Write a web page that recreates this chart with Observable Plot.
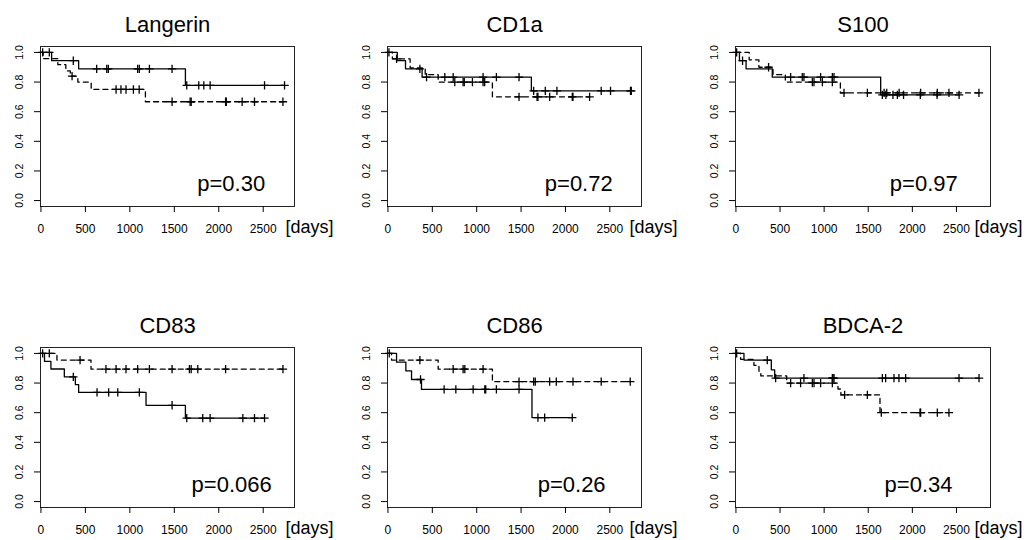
<!DOCTYPE html>
<html><head><meta charset="utf-8">
<script src="https://cdn.jsdelivr.net/npm/d3@7"></script>
<script src="https://cdn.jsdelivr.net/npm/@observablehq/plot@0.6"></script>
<style>
html,body{margin:0;padding:0;background:#fff;}
#chart{position:relative;width:1033px;height:540px;overflow:hidden;font-family:"Liberation Sans",Arial,sans-serif;background:#fff;}
#chart > div{position:absolute;}
#chart svg{max-width:none !important;overflow:visible;}
</style></head><body><div id="chart"></div>
<script>
// ---- data ----
const markers = ["Langerin", "CD1a", "S100", "CD83", "CD86", "BDCA-2"];
const pLabels = ["p=0.30", "p=0.72", "p=0.97", "p=0.066", "p=0.26", "p=0.34"];
const xTicks = [0, 500, 1000, 1500, 2000, 2500];
const yTicks = [0, 0.2, 0.4, 0.6, 0.8, 1.0];

// Langerin
const langerinSolidTime = [0, 120, 424, 1625];
const langerinSolidSurv = [1, 0.944, 0.889, 0.778];
const langerinSolidCens = [19, 94, 364, 627, 740, 758, 1088, 1107, 1220, 1475, 1640, 1775, 1832, 1903, 2515, 2740];
const langerinDashTime = [0, 25, 190, 280, 330, 415, 565, 1175];
const langerinDashSurv = [1, 0.958, 0.917, 0.875, 0.84, 0.80, 0.75, 0.667];
const langerinDashCens = [350, 845, 900, 957, 1040, 1105, 1475, 1678, 1690, 2077, 2085, 2263, 2402, 2722];

// CD1a
const cd1aSolidTime = [0, 105, 198, 385, 1616];
const cd1aSolidSurv = [1, 0.944, 0.889, 0.833, 0.741];
const cd1aSolidCens = [11, 360, 435, 641, 735, 1072, 1222, 1477, 1642, 1773, 1904, 2403, 2508, 2733, 2742];
const cd1aDashTime = [0, 50, 250, 420, 566, 1177];
const cd1aDashSurv = [1, 0.957, 0.895, 0.85, 0.80, 0.70];
const cd1aDashCens = [97, 753, 847, 860, 952, 1072, 1090, 1477, 1680, 1690, 1822, 2077, 2085, 2272];

// S100
const s100SolidTime = [0, 40, 115, 412, 1641];
const s100SolidSurv = [1, 0.944, 0.889, 0.833, 0.714];
const s100SolidCens = [8, 75, 620, 752, 771, 960, 1093, 1112, 1660, 1700, 1780, 1830, 1900, 2090, 2280, 2530];
const s100DashTime = [0, 150, 260, 420, 560, 1184];
const s100DashSurv = [1, 0.95, 0.90, 0.85, 0.80, 0.727];
const s100DashCens = [370, 866, 885, 980, 1093, 1225, 1490, 1680, 1710, 1850, 2094, 2283, 2415, 2755];

// CD83
const cd83SolidTime = [0, 40, 112, 263, 387, 424, 1182, 1625];
const cd83SolidSurv = [1, 0.947, 0.895, 0.842, 0.79, 0.737, 0.65, 0.563];
const cd83SolidCens = [19, 364, 631, 762, 864, 1107, 1475, 1640, 1820, 1903, 2271, 2402, 2515];
const cd83DashTime = [0, 180, 563];
const cd83DashSurv = [1, 0.955, 0.894];
const cd83DashCens = [94, 440, 731, 845, 957, 1088, 1220, 1475, 1670, 1690, 1764, 2077, 2722];

// CD86
const cd86SolidTime = [0, 97, 202, 266, 378, 1623];
const cd86SolidSurv = [1, 0.941, 0.882, 0.824, 0.757, 0.567];
const cd86SolidCens = [15, 367, 633, 765, 960, 1091, 1102, 1222, 1477, 1690, 1766, 2077];
const cd86DashTime = [0, 41, 566, 1177];
const cd86DashSurv = [1, 0.955, 0.894, 0.81];
const cd86DashCens = [360, 735, 847, 866, 1072, 1477, 1642, 1660, 1822, 1897, 2085, 2403, 2730];

// BDCA-2
const bdcaSolidTime = [0, 91, 401, 439];
const bdcaSolidSurv = [1, 0.955, 0.889, 0.833];
const bdcaSolidCens = [8, 355, 450, 771, 1093, 1100, 1112, 1660, 1697, 1792, 1848, 1924, 2529, 2756];
const bdcaDashTime = [0, 53, 204, 261, 282, 575, 1157, 1190, 1633];
const bdcaDashSurv = [1, 0.96, 0.92, 0.88, 0.848, 0.80, 0.76, 0.72, 0.60];
const bdcaDashCens = [620, 733, 866, 885, 960, 1093, 1232, 1490, 1648, 2087, 2094, 2283, 2415];

const solidTimes = [langerinSolidTime, cd1aSolidTime, s100SolidTime, cd83SolidTime, cd86SolidTime, bdcaSolidTime];
const solidSurvs = [langerinSolidSurv, cd1aSolidSurv, s100SolidSurv, cd83SolidSurv, cd86SolidSurv, bdcaSolidSurv];
const solidCens = [langerinSolidCens, cd1aSolidCens, s100SolidCens, cd83SolidCens, cd86SolidCens, bdcaSolidCens];
const dashTimes = [langerinDashTime, cd1aDashTime, s100DashTime, cd83DashTime, cd86DashTime, bdcaDashTime];
const dashSurvs = [langerinDashSurv, cd1aDashSurv, s100DashSurv, cd83DashSurv, cd86DashSurv, bdcaDashSurv];
const dashCens = [langerinDashCens, cd1aDashCens, s100DashCens, cd83DashCens, cd86DashCens, bdcaDashCens];

// ---- layout (pixels / positions) ----
const layout = [
  {left: 0,   top: 0,   w: 254, xmax: 2852, daysDx: -9,  pX: 2140},
  {left: 347, top: 0,   w: 254, xmax: 2857, daysDx: -12, pX: 2150},
  {left: 695, top: 0,   w: 255, xmax: 2886, daysDx: -16, pX: 2130},
  {left: 0,   top: 301, w: 254, xmax: 2852, daysDx: -9,  pX: 2145},
  {left: 347, top: 301, w: 254, xmax: 2857, daysDx: -12, pX: 2070},
  {left: 695, top: 301, w: 255, xmax: 2886, daysDx: -16, pX: 2070}
];

function km(T, S, C) {
  const pts = T.map((t, i) => ({t, s: S[i]}));
  const last = d3.max(C);
  if (last > T[T.length - 1]) pts.push({t: last, s: S[S.length - 1]});
  const cens = C.map(t => ({t, s: S[d3.bisectRight(T, t) - 1]}));
  return {pts, cens};
}

const chart = document.getElementById("chart");
markers.forEach((name, i) => {
  const L = layout[i];
  const solid = km(solidTimes[i], solidSurvs[i], solidCens[i]);
  const dash = km(dashTimes[i], dashSurvs[i], dashCens[i]);
  const ink = "#000";
  const W = 40 + L.w + 38;
  const plot = Plot.plot({
    width: W,
    height: 250,
    marginLeft: 40, marginRight: 38, marginTop: 46, marginBottom: 44,
    x: {domain: [-5, L.xmax], axis: null},
    y: {domain: [-0.04, 1.04], axis: null},
    style: {fontFamily: '"Liberation Sans", Arial, sans-serif', color: ink, background: "transparent", overflow: "visible", maxWidth: "none"},
    marks: [
      Plot.frame({stroke: "#222", strokeWidth: 1}),
      Plot.line(solid.pts, {x: "t", y: "s", curve: "step-after", stroke: ink, strokeWidth: 1.3}),
      Plot.line(dash.pts, {x: "t", y: "s", curve: "step-after", stroke: ink, strokeWidth: 1.3, strokeDasharray: "5,4"}),
      Plot.dot(solid.cens.concat(dash.cens), {x: "t", y: "s", symbol: "plus", r: 2.8, stroke: ink, strokeWidth: 1.3}),
      Plot.axisX(xTicks, {anchor: "bottom", tickSize: 6, tickPadding: 12, fontSize: 12, tickFormat: d => String(d), label: null}),
      Plot.axisY(yTicks, {anchor: "left", tickSize: 6, tickPadding: 12, tickRotate: -90, fontSize: 10.5, tickFormat: d => d.toFixed(1), label: null}),
      Plot.text([name], {frameAnchor: "top", lineAnchor: "middle", dy: -22, fontSize: 22, fill: ink}),
      Plot.text([pLabels[i]], {x: () => L.pX, y: () => 0.11, lineAnchor: "middle", fontSize: 22, fill: ink}),
      Plot.text(["[days]"], {frameAnchor: "bottom-right", lineAnchor: "middle", textAnchor: "start", dx: L.daysDx, dy: 21, fontSize: 18, fill: ink})
    ]
  });
  plot.style.maxWidth = "none";
  plot.style.width = W + "px";
  plot.style.height = "250px";
  const holder = document.createElement("div");
  holder.style.left = L.left + "px";
  holder.style.top = L.top + "px";
  holder.style.width = W + "px";
  holder.style.height = "250px";
  holder.appendChild(plot);
  chart.appendChild(holder);
});
</script>
</body></html>
